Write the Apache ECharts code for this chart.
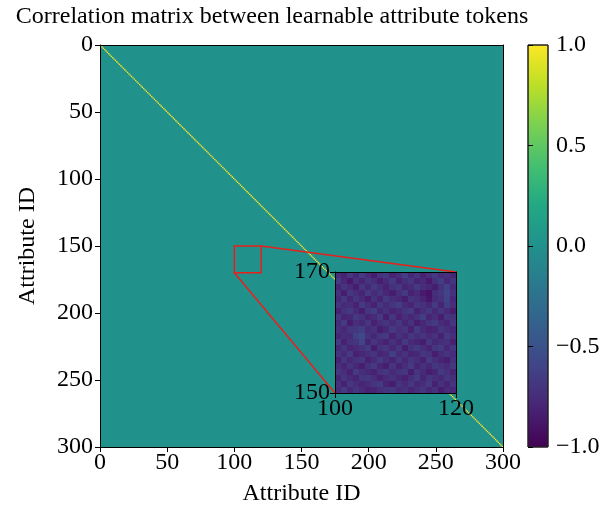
<!DOCTYPE html>
<html>
<head>
<meta charset="utf-8">
<script src="https://cdn.jsdelivr.net/npm/echarts@6/dist/echarts.min.js"></script>
<style>html,body{margin:0;padding:0;background:#fff}#c{width:609px;height:512px}</style>
</head>
<body>
<div id="c"></div>
<script>
// ---------------- data ----------------
const titleText = 'Correlation matrix between learnable attribute tokens';
const axisName = 'Attribute ID';
const matrixSize = 300;              // number of attribute tokens
const offDiagonalValue = 0.0;        // correlation between different tokens (≈0)
const diagonalValue = 1.0;           // self-correlation
const mainTicks = [0, 50, 100, 150, 200, 250, 300];
const colorbarTicks = [-1.0, -0.5, 0.0, 0.5, 1.0];
const zoomX = [100, 120];
const zoomY = [150, 170];
// inset values, rows listed from top (y=170) to bottom (y=150), columns x=100..119
const insetValues = [
 [-0.74,-0.82,-0.69,-0.78,-0.66,-0.76,-0.85,-0.72,-0.67,-0.80,-0.74,-0.64,-0.78,-0.70,-0.82,-0.74,-0.66,-0.76,-0.71,-0.80],
 [-0.66,-0.78,-0.87,-0.72,-0.80,-0.70,-0.74,-0.84,-0.76,-0.66,-0.82,-0.74,-0.68,-0.80,-0.76,-0.86,-0.72,-0.64,-0.78,-0.70],
 [-0.80,-0.70,-0.76,-0.84,-0.68,-0.78,-0.66,-0.74,-0.82,-0.72,-0.68,-0.80,-0.76,-0.66,-0.74,-0.78,-0.84,-0.72,-0.62,-0.76],
 [-0.72,-0.84,-0.68,-0.74,-0.80,-0.66,-0.76,-0.70,-0.78,-0.84,-0.74,-0.66,-0.82,-0.76,-0.86,-0.90,-0.74,-0.68,-0.60,-0.72],
 [-0.78,-0.68,-0.80,-0.70,-0.76,-0.84,-0.72,-0.80,-0.66,-0.74,-0.78,-0.84,-0.70,-0.74,-0.80,-0.88,-0.76,-0.72,-0.61,-0.78],
 [-0.70,-0.76,-0.74,-0.82,-0.66,-0.74,-0.82,-0.68,-0.76,-0.70,-0.64,-0.76,-0.80,-0.68,-0.72,-0.78,-0.66,-0.80,-0.64,-0.74],
 [-0.82,-0.72,-0.66,-0.76,-0.84,-0.70,-0.64,-0.78,-0.72,-0.80,-0.76,-0.70,-0.66,-0.82,-0.74,-0.68,-0.78,-0.70,-0.76,-0.84],
 [-0.68,-0.80,-0.78,-0.66,-0.72,-0.80,-0.76,-0.66,-0.84,-0.70,-0.82,-0.74,-0.78,-0.72,-0.64,-0.80,-0.74,-0.84,-0.70,-0.72],
 [-0.76,-0.66,-0.84,-0.74,-0.78,-0.68,-0.82,-0.74,-0.70,-0.76,-0.68,-0.80,-0.72,-0.84,-0.78,-0.70,-0.66,-0.76,-0.80,-0.68],
 [-0.72,-0.78,-0.70,-0.68,-0.64,-0.76,-0.72,-0.84,-0.78,-0.66,-0.74,-0.70,-0.82,-0.66,-0.76,-0.82,-0.80,-0.70,-0.74,-0.78],
 [-0.80,-0.74,-0.76,-0.62,-0.56,-0.72,-0.78,-0.70,-0.66,-0.82,-0.72,-0.78,-0.68,-0.74,-0.70,-0.76,-0.72,-0.82,-0.66,-0.74],
 [-0.66,-0.82,-0.72,-0.70,-0.60,-0.80,-0.68,-0.76,-0.82,-0.72,-0.80,-0.66,-0.76,-0.80,-0.84,-0.68,-0.78,-0.74,-0.72,-0.82],
 [-0.78,-0.70,-0.80,-0.76,-0.72,-0.66,-0.84,-0.72,-0.68,-0.78,-0.70,-0.84,-0.72,-0.66,-0.74,-0.80,-0.70,-0.66,-0.78,-0.68],
 [-0.70,-0.76,-0.66,-0.82,-0.78,-0.74,-0.70,-0.80,-0.76,-0.64,-0.76,-0.72,-0.80,-0.78,-0.68,-0.72,-0.84,-0.76,-0.70,-0.76],
 [-0.82,-0.68,-0.78,-0.72,-0.68,-0.82,-0.76,-0.66,-0.74,-0.80,-0.68,-0.78,-0.70,-0.74,-0.82,-0.66,-0.74,-0.80,-0.84,-0.72],
 [-0.74,-0.80,-0.70,-0.78,-0.84,-0.72,-0.66,-0.78,-0.84,-0.70,-0.82,-0.74,-0.66,-0.80,-0.72,-0.78,-0.68,-0.72,-0.76,-0.66],
 [-0.68,-0.74,-0.82,-0.66,-0.74,-0.78,-0.82,-0.72,-0.68,-0.76,-0.72,-0.68,-0.84,-0.70,-0.76,-0.84,-0.80,-0.66,-0.72,-0.80],
 [-0.80,-0.70,-0.76,-0.80,-0.70,-0.68,-0.74,-0.82,-0.76,-0.72,-0.78,-0.82,-0.74,-0.66,-0.80,-0.70,-0.74,-0.78,-0.68,-0.74],
 [-0.72,-0.82,-0.68,-0.74,-0.80,-0.76,-0.70,-0.66,-0.80,-0.84,-0.70,-0.76,-0.68,-0.78,-0.74,-0.66,-0.82,-0.72,-0.80,-0.70],
 [-0.76,-0.66,-0.78,-0.70,-0.76,-0.82,-0.80,-0.74,-0.70,-0.68,-0.76,-0.72,-0.80,-0.74,-0.68,-0.78,-0.72,-0.84,-0.76,-0.78]
];

// ---------------- styles ----------------
const viridis = ['#440154','#482475','#414487','#355f8d','#2a788e','#21918c','#22a884','#44bf70','#7ad151','#bddf26','#fde725'];
const FONT = 'Liberation Serif';
const FS = 24;

// main matrix: one block for off-diagonal cells, unit cells on the diagonal
const mainData = [[0, 0, matrixSize, offDiagonalValue]];
for (let i = 0; i < matrixSize; i++) mainData.push([i, i, 1, diagonalValue]);
// inset cells
const insetData = [];
insetValues.forEach((row, r) => row.forEach((v, c) => insetData.push([zoomX[0] + c, zoomY[1] - 1 - r, 1, v])));

function makeCellRender(snap) {
  return function (params, api) {
    const x0 = api.value(0), y0 = api.value(1), s = api.value(2);
    const p0 = api.coord([x0, y0]);
    const p1 = api.coord([x0 + s, y0 + s]);
    let xa = Math.min(p0[0], p1[0]), xb = Math.max(p0[0], p1[0]);
    let ya = Math.min(p0[1], p1[1]), yb = Math.max(p0[1], p1[1]);
    if (snap) { xa = Math.round(xa); xb = Math.round(xb); ya = Math.round(ya); yb = Math.round(yb); }
    return {
      type: 'rect',
      shape: {x: xa, y: ya, width: xb - xa, height: yb - ya},
      style: {fill: api.visual('color')}
    };
  };
}

const lab = {fontFamily: FONT, fontSize: FS, color: '#000'};
const frameAxis = (grid, pos) => ({
  gridIndex: grid, type: 'value', position: pos, z: 10,
  axisLine: {show: true, onZero: false, lineStyle: {color: '#000', width: 1}},
  axisTick: {show: false}, axisLabel: {show: false}, splitLine: {show: false}
});

const chart = echarts.init(document.getElementById('c'), null, {renderer: 'canvas'});
chart.setOption({
  animation: false,
  backgroundColor: '#fff',
  title: {text: titleText, left: 267, top: 0, textAlign: 'center',
    textStyle: {fontFamily: FONT, fontSize: FS, fontWeight: 'normal', color: '#000'}},
  visualMap: {type: 'continuous', show: false, min: -1, max: 1, dimension: 3, seriesIndex: [0, 1],
    inRange: {color: viridis}},
  grid: [
    {left: 100, top: 45, width: 403, height: 402},
    {left: 335, top: 272, width: 121, height: 121, z: 5},
    {left: 528, top: 45, width: 20, height: 402}
  ],
  xAxis: [
    {gridIndex: 0, type: 'value', min: mainTicks[0], max: mainTicks[mainTicks.length - 1], interval: 50, position: 'bottom', z: 10,
      name: axisName, nameLocation: 'middle', nameGap: 35, nameTextStyle: lab,
      axisLine: {show: true, onZero: false, lineStyle: {color: '#000'}},
      axisTick: {show: true, inside: false, length: 5, lineStyle: {color: '#000'}},
      axisLabel: Object.assign({margin: 4}, lab), splitLine: {show: false}},
    Object.assign(frameAxis(0, 'top'), {min: 0, max: matrixSize}),
    {gridIndex: 1, type: 'value', min: zoomX[0], max: zoomX[1], interval: 20, position: 'bottom', z: 12,
      axisLine: {show: true, onZero: false, lineStyle: {color: '#000'}},
      axisTick: {show: true, length: 5, lineStyle: {color: '#000'}},
      axisLabel: Object.assign({margin: 4}, lab), splitLine: {show: false}},
    Object.assign(frameAxis(1, 'top'), {min: zoomX[0], max: zoomX[1], z: 12}),
    {gridIndex: 2, type: 'value', min: 0, max: 1, show: false}
  ],
  yAxis: [
    {gridIndex: 0, type: 'value', min: mainTicks[0], max: mainTicks[mainTicks.length - 1], interval: 50, inverse: true, position: 'left', z: 10,
      name: axisName, nameLocation: 'middle', nameGap: 60, nameRotate: 90, nameTextStyle: lab,
      axisLine: {show: true, onZero: false, lineStyle: {color: '#000'}},
      axisTick: {show: true, length: 5, lineStyle: {color: '#000'}},
      axisLabel: Object.assign({margin: 7}, lab), splitLine: {show: false}},
    Object.assign(frameAxis(0, 'right'), {min: 0, max: matrixSize, inverse: true}),
    {gridIndex: 1, type: 'value', min: zoomY[0], max: zoomY[1], interval: 20, position: 'left', z: 12,
      axisLine: {show: true, onZero: false, lineStyle: {color: '#000'}},
      axisTick: {show: true, length: 5, lineStyle: {color: '#000'}},
      axisLabel: Object.assign({margin: 5}, lab), splitLine: {show: false}},
    Object.assign(frameAxis(1, 'right'), {min: zoomY[0], max: zoomY[1], z: 12}),
    {gridIndex: 2, type: 'value', min: colorbarTicks[0], max: colorbarTicks[colorbarTicks.length - 1], interval: 0.5, position: 'right', z: 10,
      axisLine: {show: false},
      axisTick: {show: true, length: 5, lineStyle: {color: '#000'}},
      axisLabel: Object.assign({margin: 8, formatter: v => (v < 0 ? '\u2212' : '') + Math.abs(v).toFixed(1)}, lab),
      splitLine: {show: false}}
  ],
  series: [
    {type: 'custom', xAxisIndex: 0, yAxisIndex: 0, z: 2, renderItem: makeCellRender(false), data: mainData, encode: {x: 0, y: 1}},
    {type: 'custom', xAxisIndex: 2, yAxisIndex: 2, z: 6, renderItem: makeCellRender(true), data: insetData, encode: {x: 0, y: 1}},
    {type: 'custom', xAxisIndex: 0, yAxisIndex: 0, z: 4, data: [[zoomX[0], zoomY[0], zoomX[1], zoomY[1]]], encode: {x: 0, y: 1},
      renderItem: (p, api) => {
        const a = api.coord([api.value(0), api.value(1)]), b = api.coord([api.value(2), api.value(3)]);
        return {type: 'rect', shape: {x: Math.min(a[0], b[0]), y: Math.min(a[1], b[1]), width: Math.abs(b[0] - a[0]), height: Math.abs(b[1] - a[1])},
          style: {fill: null, stroke: '#e8201c', lineWidth: 1.5}};
      }},
    {type: 'custom', xAxisIndex: 4, yAxisIndex: 4, z: 2, data: [[0, colorbarTicks[0], 1, colorbarTicks[colorbarTicks.length - 1]]], encode: {x: 0, y: 1},
      renderItem: (p, api) => {
        const a = api.coord([api.value(0), api.value(1)]), b = api.coord([api.value(2), api.value(3)]);
        const stops = viridis.map((c, i) => ({offset: i / (viridis.length - 1), color: c}));
        return {type: 'rect', shape: {x: a[0], y: b[1], width: b[0] - a[0], height: a[1] - b[1]},
          style: {fill: new echarts.graphic.LinearGradient(0, 1, 0, 0, stops), stroke: '#222', lineWidth: 1}};
      }}
  ]
});

// connector lines (mark_inset) from the zoom box to the inset corners
const a1 = chart.convertToPixel({gridIndex: 0}, [zoomX[1], zoomY[0]]);
const b1 = chart.convertToPixel({gridIndex: 1}, [zoomX[1], zoomY[1]]);
const a2 = chart.convertToPixel({gridIndex: 0}, [zoomX[0], zoomY[1]]);
const b2 = chart.convertToPixel({gridIndex: 1}, [zoomX[0], zoomY[0]]);
chart.setOption({
  graphic: [
    {type: 'line', z: 4, shape: {x1: a1[0], y1: a1[1], x2: b1[0], y2: b1[1]}, style: {stroke: '#e8201c', lineWidth: 1.5}},
    {type: 'line', z: 4, shape: {x1: a2[0], y1: a2[1], x2: b2[0], y2: b2[1]}, style: {stroke: '#e8201c', lineWidth: 1.5}}
  ]
});
</script>
</body>
</html>
